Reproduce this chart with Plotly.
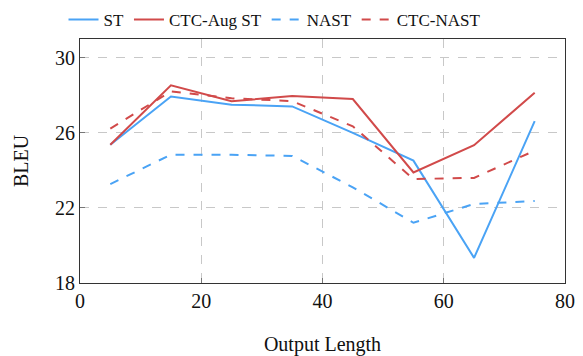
import plotly.graph_objects as go

x = [5, 15, 25, 35, 45, 55, 65, 75]
st = [25.37, 27.94, 27.5, 27.41, 26.0, 24.52, 19.34, 26.62]
ctc_aug_st = [25.37, 28.53, 27.68, 27.96, 27.8, 23.89, 25.34, 28.14]
nast = [23.27, 24.84, 24.83, 24.77, 23.1, 21.21, 22.21, 22.37]
ctc_nast = [26.23, 28.21, 27.84, 27.69, 26.35, 23.54, 23.6, 25.05]

blue = "#4aa3f5"
red = "#d14a4a"

fig = go.Figure()
fig.add_trace(go.Scatter(x=x, y=st, mode="lines", name="ST",
                         line=dict(color=blue, width=2)))
fig.add_trace(go.Scatter(x=x, y=ctc_aug_st, mode="lines", name="CTC-Aug ST",
                         line=dict(color=red, width=2)))
fig.add_trace(go.Scatter(x=x, y=nast, mode="lines", name="NAST",
                         line=dict(color=blue, width=2, dash="dash")))
fig.add_trace(go.Scatter(x=x, y=ctc_nast, mode="lines", name="CTC-NAST",
                         line=dict(color=red, width=2, dash="dash")))

font = "Liberation Serif"
axis_common = dict(
    showline=True, linecolor="#333", linewidth=1.2, mirror=True,
    ticks="inside", ticklen=5, tickcolor="#777",
    showgrid=True, gridcolor="#c8c8c8", griddash="dash", gridwidth=1,
    zeroline=False, automargin=False,
    tickfont=dict(family=font, size=20, color="#111"),
)
# page body has an 8px default margin, so the figure is sized to fit it
fig.update_layout(
    width=575, height=348,
    margin=dict(l=72, r=18, t=31, b=73, autoexpand=False),
    plot_bgcolor="white", paper_bgcolor="white",
    showlegend=True,
    legend=dict(orientation="h", x=-0.034, y=1.078, xanchor="left", yanchor="middle",
                font=dict(family=font, size=17, color="#111"),
                itemwidth=30, tracegroupgap=0, bgcolor="rgba(0,0,0,0)"),
    xaxis=dict(range=[0, 80], tickvals=[0, 20, 40, 60, 80],
               title=dict(text="Output Length", font=dict(family=font, size=20, color="#111"), standoff=28),
               **axis_common),
    yaxis=dict(range=[18, 31], tickvals=[18, 22, 26, 30],
               title=dict(text="BLEU", font=dict(family=font, size=20, color="#111"), standoff=20),
               **axis_common),
)
fig.write_html("out.html")
